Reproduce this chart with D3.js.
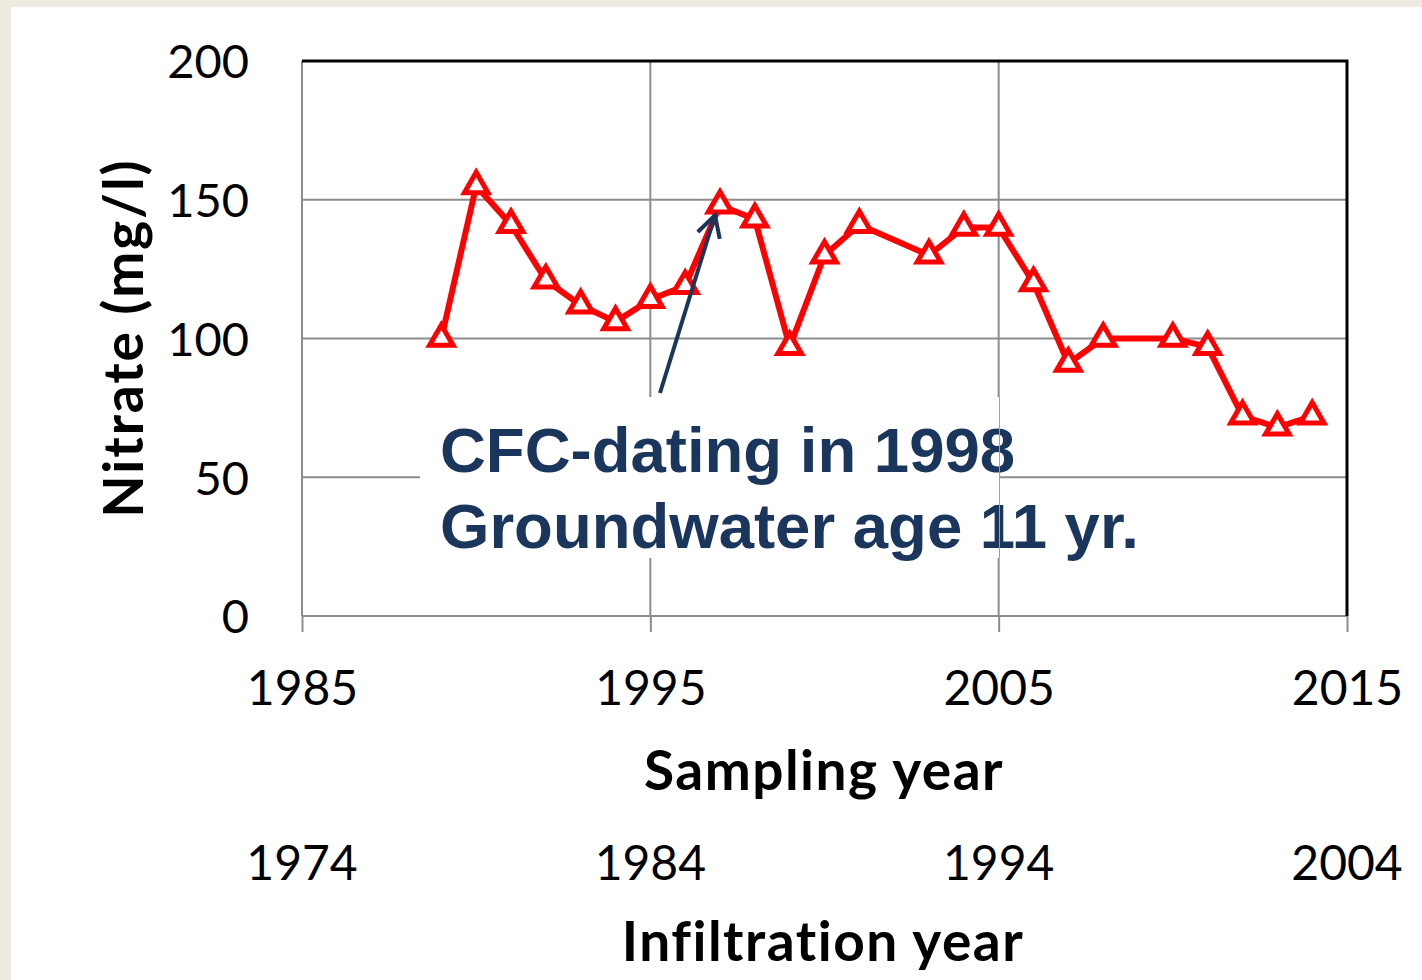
<!DOCTYPE html>
<html><head><meta charset="utf-8">
<script src="https://cdn.jsdelivr.net/npm/d3@7"></script>
<style>body{margin:0;background:#eeebe1;}svg{display:block;}</style>
</head><body>
<svg id="c" width="1422" height="980"></svg>
<script>
const years = [1989,1990,1991,1992,1993,1994,1995,1996,1997,1998,1999,2000,2001,2003,2004,2005,2006,2007,2008,2010,2011,2012,2013,2014];
const nitrate = [100,155,141,121,112,106,114,119,148,143,97,130,141,130,140,140,120,91,100,100,97,72,68,72];
const yTicks = [0,50,100,150,200];
const samplingTicks = [1985,1995,2005,2015];
const infiltrationTicks = [1974,1984,1994,2004];
const groundwaterAge = 11;
const annotationLines = ["CFC-dating in 1998","Groundwater age 11 yr."];
const annotatedYear = 1997;

const svg = d3.select("#c");
svg.append("rect").attr("width",1422).attr("height",980).attr("fill","#eeebe1");
svg.append("rect").attr("x",11).attr("y",7).attr("width",1411).attr("height",973).attr("fill","#ffffff");

const L=302,R=1347,T=61,B=616;
const x = d3.scaleLinear().domain([1985,2015]).range([L,R]);
const xi = d3.scaleLinear().domain([1985-groundwaterAge,2015-groundwaterAge]).range([L,R]);
const y = d3.scaleLinear().domain([0,200]).range([B,T]);
const grid="#8c8c8c";
const tickFont="Lato, Carlito, 'Open Sans', sans-serif";

// gridlines
svg.append("g").selectAll("line").data(yTicks.filter(v=>v>0&&v<200)).join("line")
  .attr("x1",L).attr("x2",R).attr("y1",d=>y(d)).attr("y2",d=>y(d)).attr("stroke",grid).attr("stroke-width",2);
svg.append("g").selectAll("line").data(samplingTicks.filter(v=>v>1985&&v<2015)).join("line")
  .attr("x1",d=>x(d)).attr("x2",d=>x(d)).attr("y1",T).attr("y2",B).attr("stroke",grid).attr("stroke-width",2);

// axes (x bottom with outer ticks)
const xAxis = svg.append("g").attr("transform",`translate(0,${B})`)
  .call(d3.axisBottom(x).tickValues(samplingTicks).tickSize(16).tickFormat(d3.format("d")));
xAxis.select(".domain").attr("stroke",grid).attr("stroke-width",2).attr("d",`M${L},0H${R}`);
xAxis.selectAll(".tick line").attr("stroke",grid).attr("stroke-width",2);
xAxis.selectAll(".tick text").attr("font-family",tickFont).attr("font-size",48).attr("fill","#000").attr("dy",0).attr("y",89);

const yAxis = svg.append("g").attr("transform",`translate(${L},0)`)
  .call(d3.axisLeft(y).tickValues(yTicks).tickSize(0).tickPadding(53));
yAxis.select(".domain").attr("stroke",grid).attr("stroke-width",2).attr("d",`M0,${T}V${B}`);
yAxis.selectAll(".tick text").attr("font-family",tickFont).attr("font-size",47).attr("fill","#000").attr("dy","0.36em");

// top and right frame
svg.append("path").attr("d",`M${L},${T}H${R}V${B}`).attr("fill","none").attr("stroke","#000").attr("stroke-width",3);

// infiltration year labels
svg.append("g").selectAll("text").data(infiltrationTicks).join("text")
  .attr("x",d=>xi(d)).attr("y",880).attr("text-anchor","middle")
  .attr("font-family",tickFont).attr("font-size",48).attr("fill","#000").text(d=>d);

// titles
svg.append("text").attr("x",824).attr("y",790).attr("text-anchor","middle")
  .attr("font-family",tickFont).attr("font-weight","bold").attr("font-size",55).attr("letter-spacing",1.5).text("Sampling year");
svg.append("text").attr("x",823).attr("y",961).attr("text-anchor","middle")
  .attr("font-family",tickFont).attr("font-weight","bold").attr("font-size",55).attr("letter-spacing",1.5).text("Infiltration year");
svg.append("text").attr("transform","translate(143,338) rotate(-90)").attr("text-anchor","middle")
  .attr("font-family",tickFont).attr("font-weight","bold").attr("font-size",55).attr("letter-spacing",2).text("Nitrate (mg/l)");

// annotation box
svg.append("rect").attr("x",420).attr("y",397).attr("width",579).attr("height",161).attr("fill","#fff");

// data line
const data = years.map((yr,i)=>({yr,v:nitrate[i]}));
svg.append("path").datum(data)
  .attr("d",d3.line().x(d=>x(d.yr)).y(d=>y(d.v)))
  .attr("fill","none").attr("stroke","#ff0000").attr("stroke-width",6).attr("stroke-linejoin","round");
svg.append("g").selectAll("path").data(data).join("path")
  .attr("transform",d=>`translate(${x(d.yr)},${y(d.v)})`)
  .attr("d",d3.symbol(d3.symbolTriangle,240))
  .attr("fill","#fff").attr("stroke","#ff0000").attr("stroke-width",5).attr("stroke-linejoin","miter");

// annotation text
const navy="#1b365d";
svg.append("g").selectAll("text").data(annotationLines).join("text")
  .attr("x",440).attr("y",(d,i)=>472+i*76)
  .attr("font-family","'Liberation Sans', Arial, sans-serif").attr("font-weight","bold")
  .attr("font-size",63.5).attr("fill",navy).text(d=>d);
// thin box edge visible over text
svg.append("line").attr("x1",999.5).attr("x2",999.5).attr("y1",397).attr("y2",558)
  .attr("stroke","#a0a0a0").attr("stroke-width",1);

// arrow
const av = nitrate[years.indexOf(annotatedYear)];
const tipX = x(annotatedYear)-5, tipY = y(av)+10;
const sx = 660, sy = 393;
const ang = Math.atan2(sy-tipY, sx-tipX);
const wl = 24, wa = 0.5;
svg.append("line").attr("x1",sx).attr("y1",sy).attr("x2",tipX).attr("y2",tipY)
  .attr("stroke",navy).attr("stroke-width",4);
svg.append("path")
  .attr("d",`M${tipX+wl*Math.cos(ang+wa)},${tipY+wl*Math.sin(ang+wa)}L${tipX},${tipY}L${tipX+wl*Math.cos(ang-wa)},${tipY+wl*Math.sin(ang-wa)}`)
  .attr("fill","none").attr("stroke",navy).attr("stroke-width",4);
</script>
</body></html>
